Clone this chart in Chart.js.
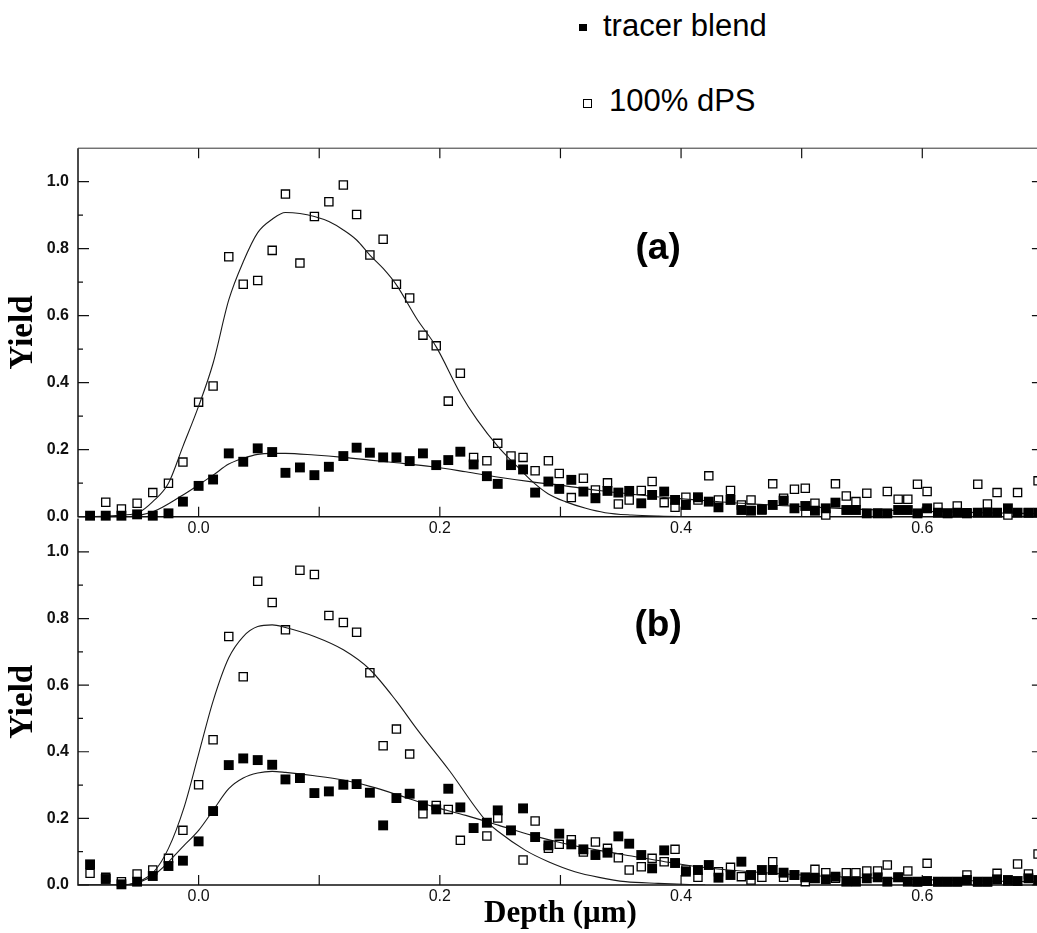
<!DOCTYPE html>
<html>
<head>
<meta charset="utf-8">
<script src="https://cdn.jsdelivr.net/npm/chart.js@4.4.1/dist/chart.umd.min.js"></script>
<style>
  html, body { margin: 0; padding: 0; background: #fff; overflow: hidden; }
  #page { position: relative; width: 1037px; height: 933px; overflow: hidden; background: #fff; }
  canvas { position: absolute; left: 0; }
  #chartA { top: 0; }
  #chartB { top: 500px; }
  .lg-mark { position: absolute; box-sizing: border-box; }
  .lg-mark.filled { left: 579px; top: 24px; width: 8px; height: 7px; background: #000; }
  .lg-mark.open { left: 583px; top: 99px; width: 9px; height: 9px; border: 1px solid #000; background: #fff; }
  .lg-text { position: absolute; font: 31px/31px 'Liberation Sans', Arial, sans-serif; color: #000; white-space: nowrap; }
  .lg-text.r0 { left: 603px; top: 10px; }
  .lg-text.r1 { left: 609px; top: 85px; }
</style>
</head>
<body>
<div id="page">
  <div id="legend"></div>
  <canvas id="chartA" width="1050" height="560"></canvas>
  <canvas id="chartB" width="1050" height="433"></canvas>
</div>
<script>
// Depth of each measured channel (µm), shared by both samples
const depth = [
  -0.090, -0.077, -0.064, -0.051, -0.038, -0.025, -0.013, 0.000, 0.012, 0.025,
   0.037,  0.049,  0.061,  0.072,  0.084,  0.096,  0.108, 0.120, 0.131, 0.142,
   0.153,  0.164,  0.175,  0.186,  0.197,  0.207,  0.217, 0.228, 0.239, 0.248,
   0.259,  0.269,  0.279,  0.290,  0.299,  0.309,  0.319, 0.329, 0.339, 0.348,
   0.357,  0.367,  0.376,  0.386,  0.395,  0.404,  0.414, 0.423, 0.431, 0.441,
   0.450,  0.458,  0.467,  0.476,  0.485,  0.494,  0.503, 0.511, 0.520, 0.528,
   0.537,  0.545,  0.554,  0.563,  0.571,  0.580,  0.588, 0.596, 0.604, 0.613,
   0.621,  0.629,  0.637,  0.646,  0.654,  0.662,  0.671, 0.679, 0.688, 0.696
];

// Panel (a) yields
const tracerA = [
  0.003, 0.003, 0.003, 0.007, 0.003, 0.010, 0.045, 0.092, 0.111, 0.189,
  0.164, 0.204, 0.193, 0.131, 0.147, 0.124, 0.149, 0.181, 0.206, 0.191,
  0.177, 0.177, 0.166, 0.189, 0.154, 0.169, 0.194, 0.156, 0.121, 0.098,
  0.154, 0.141, 0.072, 0.105, 0.083, 0.110, 0.075, 0.055, 0.077, 0.072,
  0.077, 0.040, 0.065, 0.075, 0.050, 0.035, 0.058, 0.045, 0.028, 0.050,
  0.020, 0.018, 0.022, 0.035, 0.048, 0.025, 0.032, 0.018, 0.025, 0.042,
  0.020, 0.020, 0.010, 0.010, 0.010, 0.020, 0.020, 0.010, 0.025, 0.012,
  0.010, 0.012, 0.010, 0.012, 0.012, 0.012, 0.025, 0.012, 0.012, 0.012
];
const dpsA = [
  null,  0.043, 0.023, 0.040, 0.072, 0.100, 0.163, 0.342, 0.390, 0.776,
  0.694, 0.705, 0.795, 0.963, 0.757, 0.896, 0.940, 0.990, 0.902, 0.781,
  0.828, 0.694, 0.653, 0.542, 0.510, 0.345, 0.428, 0.177, 0.167, 0.219,
  0.181, 0.177, 0.137, 0.167, 0.129, 0.057, 0.115, 0.080, 0.101, 0.038,
  0.050, 0.078, 0.105, 0.042, 0.028, 0.058, 0.050, 0.122, 0.050, 0.078,
  0.035, 0.050, 0.020, 0.098, 0.055, 0.082, 0.085, 0.040, 0.005, 0.098,
  0.062, 0.045, 0.070, 0.010, 0.075, 0.052, 0.052, 0.097, 0.075, 0.028,
  0.010, 0.032, 0.012, 0.097, 0.038, 0.072, 0.005, 0.072, 0.012, 0.107
];

// Panel (b) yields
const tracerB = [
  0.062, 0.018, 0.002, 0.010, 0.027, 0.057, 0.073, 0.131, 0.222, 0.360,
  0.380, 0.375, 0.361, 0.317, 0.321, 0.276, 0.281, 0.301, 0.303, 0.277,
  0.179, 0.261, 0.274, 0.239, 0.227, 0.289, 0.233, 0.171, 0.187, 0.224,
  0.164, 0.230, 0.144, 0.119, 0.154, 0.122, 0.107, 0.090, 0.097, 0.146,
  0.124, 0.090, 0.050, 0.104, 0.066, 0.040, 0.045, 0.060, 0.022, 0.030,
  0.070, 0.030, 0.045, 0.045, 0.037, 0.030, 0.023, 0.020, 0.017, 0.025,
  0.010, 0.010, 0.020, 0.023, 0.010, 0.023, 0.010, 0.010, 0.012, 0.010,
  0.010, 0.010, 0.015, 0.010, 0.010, 0.017, 0.015, 0.012, 0.020, 0.015
];
const dpsB = [
  0.035, 0.023, 0.010, 0.033, 0.045, 0.080, 0.164, 0.301, 0.436, 0.746,
  0.625, 0.912, 0.848, 0.766, 0.945, 0.932, 0.809, 0.788, 0.759, 0.637,
  0.418, 0.468, 0.393, 0.214, 0.239, 0.227, 0.134, null,  0.147, 0.201,
  null,  0.075, 0.192, 0.110, 0.122, 0.136, 0.099, 0.129, 0.110, 0.082,
  0.045, 0.055, 0.080, 0.070, 0.107, 0.045, 0.023, null,  0.040, 0.053,
  0.025, 0.015, 0.023, 0.070, 0.023, 0.030, 0.010, 0.047, 0.037, 0.020,
  0.037, 0.037, 0.042, 0.042, 0.060, 0.023, 0.042, 0.010, 0.065, 0.010,
  0.010, 0.010, 0.030, 0.010, 0.010, 0.035, 0.012, 0.063, 0.033, 0.093
];

// Model profiles
const fitTracerAx = [-0.100, -0.064, -0.038, -0.013, 0.000, 0.012, 0.025, 0.037, 0.049, 0.061, 0.072, 0.096, 0.120, 0.142, 0.164, 0.194, 0.2215, 0.249, 0.2765, 0.304, 0.332, 0.359, 0.387, 0.4135, 0.450, 0.500, 0.550, 0.600, 0.650, 0.700];
const fitTracerAy = [0.000, 0.000, 0.015, 0.065, 0.095, 0.124, 0.157, 0.174, 0.186, 0.189, 0.189, 0.184, 0.177, 0.169, 0.161, 0.149, 0.134, 0.118, 0.104, 0.092, 0.078, 0.067, 0.057, 0.050, 0.040, 0.030, 0.022, 0.016, 0.012, 0.009];
const fitDpsAx = [-0.100, -0.075, -0.063, -0.050, -0.038, -0.025, -0.013, 0.000, 0.012, 0.025, 0.037, 0.049, 0.061, 0.072, 0.084, 0.096, 0.108, 0.120, 0.131, 0.142, 0.153, 0.164, 0.181, 0.197, 0.217, 0.231, 0.249, 0.263, 0.277, 0.290, 0.304, 0.321, 0.337, 0.359, 0.381, 0.420];
const fitDpsAy = [0.000, 0.002, 0.005, 0.012, 0.045, 0.100, 0.210, 0.330, 0.458, 0.647, 0.761, 0.848, 0.888, 0.908, 0.905, 0.896, 0.881, 0.856, 0.826, 0.781, 0.741, 0.692, 0.590, 0.507, 0.368, 0.289, 0.206, 0.154, 0.104, 0.068, 0.045, 0.025, 0.012, 0.005, 0.002, 0.000];
const fitTracerBx = [-0.100, -0.064, -0.037, -0.012, 0.000, 0.012, 0.025, 0.037, 0.049, 0.061, 0.072, 0.096, 0.120, 0.142, 0.164, 0.194, 0.2215, 0.249, 0.2765, 0.304, 0.332, 0.359, 0.3865, 0.414, 0.450, 0.500, 0.550, 0.600, 0.650, 0.700];
const fitTracerBy = [0.000, 0.000, 0.030, 0.119, 0.164, 0.224, 0.289, 0.321, 0.336, 0.341, 0.338, 0.328, 0.315, 0.296, 0.272, 0.236, 0.209, 0.179, 0.149, 0.124, 0.104, 0.087, 0.070, 0.055, 0.042, 0.030, 0.022, 0.016, 0.012, 0.010];
const fitDpsBx = [-0.100, -0.064, -0.050, -0.037, -0.025, -0.012, 0.000, 0.012, 0.025, 0.037, 0.049, 0.061, 0.072, 0.096, 0.120, 0.142, 0.164, 0.181, 0.208, 0.238, 0.249, 0.271, 0.290, 0.312, 0.332, 0.354, 0.381, 0.420];
const fitDpsBy = [0.000, 0.000, 0.010, 0.040, 0.110, 0.234, 0.393, 0.552, 0.682, 0.746, 0.776, 0.781, 0.773, 0.746, 0.706, 0.647, 0.552, 0.468, 0.343, 0.194, 0.159, 0.104, 0.070, 0.040, 0.023, 0.010, 0.005, 0.000];

const seriesNames = ['tracer blend', '100% dPS'];
const panelNames = ['(a)', '(b)'];
const xTickValues = [0, 0.2, 0.4, 0.6];
const xTickLabels = ['0.0', '0.2', '0.4', '0.6'];
const yTickValues = [0, 0.2, 0.4, 0.6, 0.8, 1.0];
const yTickLabels = ['0.0', '0.2', '0.4', '0.6', '0.8', '1.0'];
const xMarks = [0, 0.1, 0.2, 0.3, 0.4, 0.5, 0.6];
const yMinorMarks = [0.1, 0.3, 0.5, 0.7, 0.9];

const SANS = "'Liberation Sans', Arial, Helvetica, sans-serif";
const SERIF = "'Liberation Serif', 'Times New Roman', serif";

function pairs(xs, ys) {
  return xs.map((x, i) => ({ x: x, y: ys[i] })).filter(p => p.y !== null);
}

// Axis frame with inward tick marks, plus the panel letter
const framePlugin = {
  id: 'frame',
  beforeDatasetsDraw(chart, args, opts) {
    const { ctx, chartArea: a } = chart;
    const xs = chart.scales.x, ys = chart.scales.y;
    ctx.save();
    ctx.strokeStyle = '#111';
    ctx.lineCap = 'butt';
    ctx.lineWidth = 1.5;
    ctx.beginPath();
    ctx.moveTo(a.left, a.top);
    ctx.lineTo(a.left, a.bottom);
    ctx.lineTo(a.right, a.bottom);
    ctx.lineTo(a.right, a.top);
    ctx.stroke();
    if (opts.top) {
      ctx.lineWidth = 1;
      ctx.strokeStyle = '#333';
      ctx.beginPath();
      ctx.moveTo(a.left, a.top);
      ctx.lineTo(a.right, a.top);
      ctx.stroke();
    }
    ctx.strokeStyle = '#111';
    ctx.lineWidth = 1.2;
    ctx.beginPath();
    xMarks.forEach(v => {
      const px = xs.getPixelForValue(v);
      ctx.moveTo(px, a.bottom);
      ctx.lineTo(px, a.bottom - 10);
      if (opts.top) {
        ctx.moveTo(px, a.top);
        ctx.lineTo(px, a.top + 10);
      }
    });
    yTickValues.forEach(v => {
      const py = ys.getPixelForValue(v);
      ctx.moveTo(a.left, py);
      ctx.lineTo(a.left + 11, py);
      ctx.moveTo(a.right, py);
      ctx.lineTo(a.right - 11, py);
    });
    yMinorMarks.forEach(v => {
      const py = ys.getPixelForValue(v);
      ctx.moveTo(a.left, py);
      ctx.lineTo(a.left + 5, py);
    });
    ctx.stroke();
    // panel letter
    ctx.fillStyle = '#000';
    ctx.font = 'bold 37px ' + SANS;
    ctx.textAlign = 'center';
    ctx.textBaseline = 'middle';
    ctx.fillText(opts.label, xs.getPixelForValue(opts.labelAt[0]), ys.getPixelForValue(opts.labelAt[1]));
    ctx.restore();
  }
};

function makePanel(canvasId, tracerY, dpsY, fitT, fitD, cfg) {
  const datasets = [
    {
      label: seriesNames[0], legendRow: 0,
      data: pairs(depth, tracerY), order: 1,
      pointStyle: 'rect', pointRadius: 7, pointHoverRadius: 7,
      backgroundColor: '#000', borderColor: '#000', borderWidth: 0, clip: false
    },
    {
      label: seriesNames[0] + ' model',
      data: pairs(fitT[0], fitT[1]), order: 2,
      showLine: true, pointRadius: 0, borderColor: '#1a1a1a', borderWidth: 1.1,
      cubicInterpolationMode: 'monotone', fill: false
    },
    {
      label: seriesNames[1] + ' model',
      data: pairs(fitD[0], fitD[1]), order: 2,
      showLine: true, pointRadius: 0, borderColor: '#1a1a1a', borderWidth: 1.1,
      cubicInterpolationMode: 'monotone', fill: false
    },
    {
      label: seriesNames[1], legendRow: 1,
      data: pairs(depth, dpsY), order: 3,
      pointStyle: 'rect', pointRadius: 5.8, pointHoverRadius: 5.8,
      backgroundColor: '#fff', borderColor: '#000', borderWidth: 1.3, clip: false
    }
  ];
  return new Chart(document.getElementById(canvasId), {
    type: 'scatter',
    data: { datasets: datasets },
    plugins: [framePlugin],
    options: {
      responsive: false,
      animation: false,
      events: [],
      layout: { padding: cfg.padding },
      plugins: {
        legend: { display: false },
        tooltip: { enabled: false },
        frame: { top: cfg.top, label: cfg.label, labelAt: cfg.labelAt }
      },
      scales: {
        x: {
          type: 'linear', min: -0.1, max: 0.7,
          afterBuildTicks: s => { s.ticks = xTickValues.map(v => ({ value: v })); },
          afterFit: s => { s.height = cfg.xHeight; },
          grid: { display: false, drawTicks: false },
          border: { display: false },
          ticks: {
            padding: 2, color: '#111', maxRotation: 0, autoSkip: false,
            font: { family: SANS, size: 16 },
            callback: (v, i) => xTickLabels[i]
          },
          title: {
            display: cfg.xTitle, text: 'Depth (\u03bcm)', color: '#000',
            font: { family: SERIF, size: 31, weight: 'bold' }, padding: 0
          }
        },
        y: {
          type: 'linear', min: 0, max: 1.1,
          afterBuildTicks: s => { s.ticks = yTickValues.map(v => ({ value: v })); },
          afterFit: s => { s.width = 78; },
          grid: { display: false, drawTicks: false },
          border: { display: false },
          ticks: {
            padding: 9, color: '#111', autoSkip: false,
            font: { family: SANS, size: 16, weight: 'bold' },
            callback: (v, i) => yTickLabels[i]
          },
          title: {
            display: true, text: 'Yield', color: '#000',
            font: { family: SERIF, size: 33, weight: 'bold' },
            padding: { top: 4, bottom: 0 }
          }
        }
      }
    }
  });
}

const chartA = makePanel('chartA', tracerA, dpsA, [fitTracerAx, fitTracerAy], [fitDpsAx, fitDpsAy], {
  padding: { left: 0, right: 4.3, top: 148.2, bottom: 3.3 },
  xHeight: 40, xTitle: false, top: true,
  label: panelNames[0], labelAt: [0.381, 0.80]
});
const chartB = makePanel('chartB', tracerB, dpsB, [fitTracerBx, fitTracerBy], [fitDpsBx, fitDpsBy], {
  padding: { left: 0, right: 4.3, top: 16.5, bottom: 0 },
  xHeight: 48, xTitle: true, top: false,
  label: panelNames[1], labelAt: [0.381, 0.777]
});

// HTML legend built from the marker datasets
(function buildLegend(chart) {
  const box = document.getElementById('legend');
  chart.data.datasets.filter(d => d.legendRow !== undefined).forEach(d => {
    const mark = document.createElement('span');
    mark.className = 'lg-mark ' + (d.backgroundColor === '#000' ? 'filled' : 'open');
    const text = document.createElement('span');
    text.className = 'lg-text r' + d.legendRow;
    text.textContent = d.label;
    box.appendChild(mark);
    box.appendChild(text);
  });
})(chartA);
</script>
</body>
</html>
